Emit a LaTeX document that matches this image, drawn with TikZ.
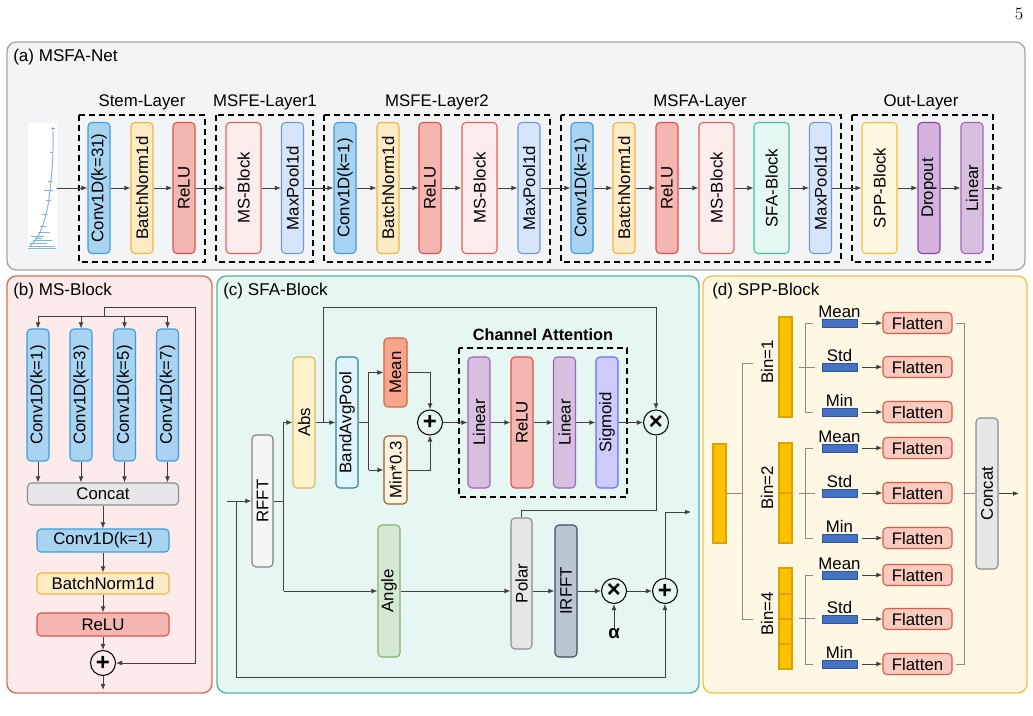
\documentclass[tikz,border=0pt]{standalone}
\usepackage{fontspec}
\setsansfont{Liberation Sans}
\usepackage{graphicx}
\usetikzlibrary{arrows.meta,calc}
\definecolor{lc}{HTML}{404040}
\definecolor{lg}{HTML}{8A8A8A}
\definecolor{paF}{HTML}{F3F4F6}\definecolor{paD}{HTML}{A6A6A6}
\definecolor{pbF}{HTML}{FDEBEB}\definecolor{pbD}{HTML}{E06A5A}
\definecolor{pcF}{HTML}{E6F6F2}\definecolor{pcD}{HTML}{4FB69A}
\definecolor{pdF}{HTML}{FDF7E3}\definecolor{pdD}{HTML}{F0C24A}
\definecolor{convF}{HTML}{A8D4F2}\definecolor{convD}{HTML}{3E9CDC}
\definecolor{bnF}{HTML}{FDEBC6}\definecolor{bnD}{HTML}{F2B33D}
\definecolor{reluF}{HTML}{F4B6B0}\definecolor{reluD}{HTML}{E0504A}
\definecolor{msF}{HTML}{FDECEC}\definecolor{msD}{HTML}{E8605A}
\definecolor{mpF}{HTML}{D6E6FA}\definecolor{mpD}{HTML}{6F9AD6}
\definecolor{sfaF}{HTML}{E5F7F2}\definecolor{sfaD}{HTML}{3CC3A0}
\definecolor{sppF}{HTML}{FFF8E1}\definecolor{sppD}{HTML}{F2C12E}
\definecolor{dropF}{HTML}{D4B2DE}\definecolor{dropD}{HTML}{8E44AD}
\definecolor{linF}{HTML}{D8BFE0}\definecolor{linD}{HTML}{A064B8}
\definecolor{catF}{HTML}{E6E7E8}\definecolor{catD}{HTML}{8C8C8C}
\definecolor{rfftF}{HTML}{F5F5F5}\definecolor{rfftD}{HTML}{7F7F7F}
\definecolor{absF}{HTML}{FFF2CC}\definecolor{absD}{HTML}{D9B95A}
\definecolor{bapF}{HTML}{E1F5FE}\definecolor{bapD}{HTML}{2F7F9A}
\definecolor{meanF}{HTML}{F8A58C}\definecolor{meanD}{HTML}{D9603C}
\definecolor{minF}{HTML}{FDF2DA}\definecolor{minD}{HTML}{9C5C33}
\definecolor{sigF}{HTML}{CCCCFF}\definecolor{sigD}{HTML}{6B6BFF}
\definecolor{polF}{HTML}{E6E6E6}\definecolor{polD}{HTML}{8C8C8C}
\definecolor{irfF}{HTML}{B9C6D1}\definecolor{irfD}{HTML}{3B4E5F}
\definecolor{angF}{HTML}{D5E8D4}\definecolor{angD}{HTML}{82B366}
\definecolor{barF}{HTML}{FFC000}\definecolor{barD}{HTML}{D9A300}
\definecolor{blF}{HTML}{4472C4}\definecolor{blD}{HTML}{2F5597}
\definecolor{flF}{HTML}{F9CBBE}\definecolor{flD}{HTML}{E0584A}
\definecolor{sigl}{HTML}{7FB2E0}
\newcommand\vtext[1]{\rotatebox{90}{#1}}
\begin{document}
\begin{tikzpicture}[x=0.75pt,y=-0.75pt,
  every node/.style={font=\sffamily\fontsize{12.6}{14}\selectfont, inner sep=0pt},
  sz/.style 2 args={minimum width=#1*0.75pt, minimum height=#2*0.75pt},
  blk/.style 2 args={draw=#2, fill=#1, rounded corners=3pt, line width=0.8pt},
  conv/.style={blk={convF}{convD}},
  bn/.style={blk={bnF}{bnD}},
  relu/.style={blk={reluF}{reluD}},
  msb/.style={blk={msF}{msD}},
  mpb/.style={blk={mpF}{mpD}},
  sfab/.style={blk={sfaF}{sfaD}},
  sppb/.style={blk={sppF}{sppD}},
  dropb/.style={blk={dropF}{dropD}},
  linb/.style={blk={linF}{linD}},
  catb/.style={blk={catF}{catD}},
  rfftb/.style={blk={rfftF}{rfftD}},
  absb/.style={blk={absF}{absD}},
  bapb/.style={blk={bapF}{bapD}},
  meanb/.style={blk={meanF}{meanD}},
  minb/.style={blk={minF}{minD}},
  sigb/.style={blk={sigF}{sigD}},
  polb/.style={blk={polF}{polD}},
  irfb/.style={blk={irfF}{irfD}},
  angb/.style={blk={angF}{angD}},
  flb/.style={blk={flF}{flD}},
  ybar/.style={draw=barD, fill=barF, line width=0.8pt},
  blbar/.style={draw=blD, fill=blF, line width=0.6pt},
  panel/.style={rounded corners=7pt, line width=1pt},
  arr/.style={draw=lc, line width=0.6pt, -{Latex[length=4.5pt,width=3.6pt]}},
  lnk/.style={draw=lc, line width=0.6pt},
  lnkg/.style={draw=lg, line width=0.6pt},
  dbox/.style={draw=black, line width=1.1pt, dash pattern=on 4.5pt off 3pt},
  opc/.style={circle, draw=black, line width=0.8pt, minimum size=25*0.75pt, font=\sffamily\bfseries\fontsize{18}{18}\selectfont},
  title/.style={anchor=west, font=\sffamily\fontsize{12.8}{14}\selectfont},
]
\useasboundingbox (0,0) rectangle (1033,716);
\fill[white] (0,0) rectangle (1033,716);
\node[font=\rmfamily\fontsize{13}{15}\selectfont] (pg) at (1019,14) {5};

% ---------------- (a) ----------------
\draw[panel, fill=paF, draw=paD] (7,42) rectangle (1025,270);
\node[title] (ta) at (13,57) {(a) MSFA-Net};
\fill[white] (28,123) rectangle (57,250);
\draw[sigl, line width=0.7pt] plot[smooth] coordinates {(53,127) (53,150) (52,170) (50,190) (48,205) (45,218) (41,230) (37,238) (32,244) (29,247)};
\draw[sigl, line width=0.4pt]
  (51,128)--(55,128) (50,152)--(53,152) (48,181)--(52,181) (44,190)--(53,190)
  (46,200)--(51,200) (42,214)--(48,214) (40,226)--(46,226)
  (38,232)--(50,232) (31,236)--(44,236) (33,240)--(52,240) (30,243)--(47,243) (29,246)--(55,246)
  (28,248)--(56,248) (35,238)--(42,238);
\coordinate (sig) at (57,188);

\draw[dbox] (79,115) rectangle (205,262);
\draw[dbox] (216,115) rectangle (313,262);
\draw[dbox] (324,115) rectangle (550,262);
\draw[dbox] (561,115) rectangle (841,262);
\draw[dbox] (852,115) rectangle (993,262);
\node (l1) at (142,102) {Stem-Layer};
\node (l2) at (265,102) {MSFE-Layer1};
\node (l3) at (437,102) {MSFE-Layer2};
\node (l4) at (700,102) {MSFA-Layer};
\node (l5) at (921,102) {Out-Layer};

\node[conv, sz={22}{131}] (c31) at (99,188) {\vtext{Conv1D(k=31)}};
\node[bn, sz={22}{131}] (bn1) at (142,188) {\vtext{BatchNorm1d}};
\node[relu, sz={22}{131}] (re1) at (184,188) {\vtext{ReLU}};
\node[msb, sz={35}{131}] (ms1) at (243.5,188) {\vtext{MS-Block}};
\node[mpb, sz={22}{131}] (mp1) at (292.5,188) {\vtext{MaxPool1d}};
\node[conv, sz={22}{131}] (cv2) at (345,188) {\vtext{Conv1D(k=1)}};
\node[bn, sz={22}{131}] (bn2) at (388,188) {\vtext{BatchNorm1d}};
\node[relu, sz={22}{131}] (re2) at (430,188) {\vtext{ReLU}};
\node[msb, sz={35}{131}] (ms2) at (479.5,188) {\vtext{MS-Block}};
\node[mpb, sz={22}{131}] (mp2) at (529,188) {\vtext{MaxPool1d}};
\node[conv, sz={22}{131}] (cv3) at (582,188) {\vtext{Conv1D(k=1)}};
\node[bn, sz={22}{131}] (bn3) at (624,188) {\vtext{BatchNorm1d}};
\node[relu, sz={22}{131}] (re3) at (667,188) {\vtext{ReLU}};
\node[msb, sz={35}{131}] (ms3) at (716.5,188) {\vtext{MS-Block}};
\node[sfab, sz={35}{131}] (sfa) at (771.5,188) {\vtext{SFA-Block}};
\node[mpb, sz={22}{131}] (mp3) at (820.5,188) {\vtext{MaxPool1d}};
\node[sppb, sz={35}{131}] (spp) at (879.5,188) {\vtext{SPP-Block}};
\node[dropb, sz={22}{131}] (drp) at (929,188) {\vtext{Dropout}};
\node[linb, sz={22}{131}] (lin) at (972,188) {\vtext{Linear}};
\coordinate (aout) at (1003,188);
\draw[arr] (sig) -- (c31);
\draw[arr] (c31) -- (bn1);
\draw[arr] (bn1) -- (re1);
\draw[arr] (re1) -- (ms1);
\draw[arr] (ms1) -- (mp1);
\draw[arr] (mp1) -- (cv2);
\draw[arr] (cv2) -- (bn2);
\draw[arr] (bn2) -- (re2);
\draw[arr] (re2) -- (ms2);
\draw[arr] (ms2) -- (mp2);
\draw[arr] (mp2) -- (cv3);
\draw[arr] (cv3) -- (bn3);
\draw[arr] (bn3) -- (re3);
\draw[arr] (re3) -- (ms3);
\draw[arr] (ms3) -- (sfa);
\draw[arr] (sfa) -- (mp3);
\draw[arr] (mp3) -- (spp);
\draw[arr] (spp) -- (drp);
\draw[arr] (drp) -- (lin);
\draw[arr] (lin) -- (aout);

% ---------------- (b) ----------------
\draw[panel, fill=pbF, draw=pbD] (7,276) rectangle (212,693);
\node[title] (tb) at (13,291) {(b) MS-Block};
\coordinate (bin) at (104,307);
\coordinate (bsp) at (104,316);
\node[conv, sz={22}{132}] (bk1) at (38,395) {\vtext{Conv1D(k=1)}};
\node[conv, sz={22}{132}] (bk3) at (81,395) {\vtext{Conv1D(k=3)}};
\node[conv, sz={22}{132}] (bk5) at (124.5,395) {\vtext{Conv1D(k=5)}};
\node[conv, sz={22}{132}] (bk7) at (167.5,395) {\vtext{Conv1D(k=7)}};
\node[catb, sz={151}{22}] (bcat) at (103,494) {Concat};
\node[conv, sz={132}{23}] (bcv) at (103,540.5) {Conv1D(k=1)};
\node[bn, sz={132}{21}] (bbn) at (103,583.5) {BatchNorm1d};
\node[relu, sz={132}{23}] (bre) at (103,624.5) {ReLU};
\node[opc] (bplus) at (103,663) {+};
\coordinate (bout) at (103,690);
\draw[lnk] (bin) -- (bsp);
\foreach \n in {bk1,bk3,bk5,bk7} {
  \draw[arr] (bsp) -| (\n);
  \draw[arr] (\n) -- (\n.south |- bcat.north);
}
\draw[arr] (bcat) -- (bcv);
\draw[arr] (bcv) -- (bbn);
\draw[arr] (bbn) -- (bre);
\draw[arr] (bre) -- (bplus);
\draw[arr] (bin) -| ($(bplus.east)+(79,0)$) -- (bplus);
\draw[arr] (bplus) -- (bout);

% ---------------- (c) ----------------
\draw[panel, fill=pcF, draw=pcD] (217,276) rectangle (699,693);
\node[title] (tc) at (223,291) {(c) SFA-Block};
\coordinate (cin) at (227,501);
\coordinate (csp) at (236,501);
\node[rfftb, sz={21}{132}] (rfft) at (262.5,501) {\vtext{RFFT}};
\node[absb, sz={22}{131}] (abs) at (304,422.5) {\vtext{Abs}};
\node[bapb, sz={22}{131}] (bap) at (347,422.5) {\vtext{BandAvgPool}};
\node[meanb, sz={23}{69}] (mean) at (395.5,372.5) {\vtext{Mean}};
\node[minb, sz={23}{68}] (minb) at (395.5,470) {\vtext{Min*0.3}};
\node[opc] (cplus) at (430,422.5) {+};
\draw[dbox] (459,348) rectangle (627,497);
\node[font=\sffamily\bfseries\fontsize{12.2}{14}\selectfont] (cat) at (543,335) {Channel Attention};
\node[linb, sz={22}{131}] (clin1) at (479,422.5) {\vtext{Linear}};
\node[relu, sz={22}{131}] (crelu) at (522,422.5) {\vtext{ReLU}};
\node[linb, sz={22}{131}] (clin2) at (564.5,422.5) {\vtext{Linear}};
\node[sigb, sz={22}{131}] (csig) at (607,422.5) {\vtext{Sigmoid}};
\node[opc] (ctimes) at (656,422.5) {×};
\node[angb, sz={22}{132}] (angle) at (389,591) {\vtext{Angle}};
\node[polb, sz={21}{131}] (polar) at (521.5,583.5) {\vtext{Polar}};
\node[irfb, sz={22}{132}] (irfft) at (566,591) {\vtext{IRFFT}};
\node[opc] (ctimes2) at (614,591) {×};
\node[font=\sffamily\bfseries\fontsize{14}{14}\selectfont] (alpha) at (614,634) {α};
\node[opc] (cplus2) at (665,591) {+};
\coordinate (cout) at (691,512);

\draw[arr] (cin) -- (rfft);
\draw[lnk] (rfft.east) -- ++(10,0) coordinate (rs);
\draw[lnk] (rs |- abs) -- (rs |- angle);
\draw[arr] (rs |- abs) -- (abs);
\draw[arr] (rs |- angle) -- (angle);
\draw[arr] (abs) -- (bap);
\draw[arr] ($(abs.east)+(8,0)$) |- ($(ctimes.north)+(0,-102)$) -- (ctimes);
\draw[lnk] (bap.east) -- ++(10,0) coordinate (bs);
\draw[lnk] (bs |- mean) -- (bs |- minb);
\draw[arr] (bs |- mean) -- (mean);
\draw[arr] (bs |- minb) -- (minb);
\draw[arr] (mean) -| (cplus);
\draw[arr] (minb) -| (cplus);
\draw[arr] (cplus) -- (clin1);
\draw[arr] (clin1) -- (crelu);
\draw[arr] (crelu) -- (clin2);
\draw[arr] (clin2) -- (csig);
\draw[arr] (csig) -- (ctimes);
\draw[lnk] (ctimes) |- ($(polar.north)+(0,-7)$) -- (polar.north);
\draw[arr] (angle) -- (angle -| polar.west);
\draw[arr] (irfft.west -| polar.east) -- (irfft);
\draw[arr] (irfft) -- (ctimes2);
\draw[arr] (alpha) -- (ctimes2);
\draw[arr] (ctimes2) -- (cplus2);
\draw[arr] (csp) |- ($(cplus2.south)+(0,73)$) -- (cplus2);
\draw[arr] (cplus2) |- (cout);

% ---------------- (d) ----------------
\draw[panel, fill=pdF, draw=pdD] (703,276) rectangle (1027,693);
\node[title] (td) at (712,291) {(d) SPP-Block};
\node[ybar, sz={13}{99}] (inbar) at (719.5,493.5) {};
\node[ybar, sz={13}{100}] (bin1) at (785.5,367) {};
\node[ybar, sz={13}{100}] (bin2) at (785.5,493) {};
\node[ybar, sz={13}{101}] (bin4) at (785.5,618.5) {};
\draw[draw=barD, line width=0.8pt] (779,493) -- (792,493);
\foreach \y in {594,619,644} {\draw[draw=barD, line width=0.8pt] (779,\y) -- (792,\y);}
\node (lb1) at (767,362) {\vtext{Bin=1}};
\node (lb2) at (767,488) {\vtext{Bin=2}};
\node (lb4) at (767,614) {\vtext{Bin=4}};
\draw[lnkg] (inbar) -- (inbar -| 742,0);
\draw[lnkg] (753,363) -- (742,363) -- (742,619) -- (753,619);
\foreach \r/\y/\t in {a1/323/Mean, a2/367/Std, a3/412/Min, b1/448/Mean, b2/493/Std, b3/538/Min, c1/575/Mean, c2/619/Std, c3/664/Min} {
  \node[blbar, sz={35}{8}] (bar\r) at (839.5,\y) {};
  \node[anchor=base] (lab\r) at ($(bar\r.north)+(0,-1)$) {\t};
  \node[flb, sz={69}{21}] (fl\r) at (917.5,\y) {Flatten};
  \draw[arr] ($(bar\r.east)+(5,0)$) -- (fl\r);
}
\foreach \m/\s/\n/\b in {a1/a2/a3/bin1, b1/b2/b3/bin2, c1/c2/c3/bin4} {
  \draw[lnkg] ($(bar\m.west)+(-9,0)$) -| ($(bar\n.west)+(-16,0)$) -- ($(bar\n.west)+(-9,0)$);
  \draw[lnkg] ($(\b.east)+(6,0)$) -- ($(\b.east -| bar\s.west)+(-7,0)$);
}
\node[catb, sz={22}{151}] (scat) at (987,493.5) {\vtext{Concat}};
\coordinate (dout) at (1019,493.5);
\draw[lnkg] ($(fla1.east)+(3,0)$) -| ($(flc3.east)+(12,0)$) -- ($(flc3.east)+(3,0)$);
\draw[lnkg] ($(scat.west)+(-12,0)$) -- (scat.west);
\draw[arr] (scat) -- (dout);
\end{tikzpicture}
\end{document}
